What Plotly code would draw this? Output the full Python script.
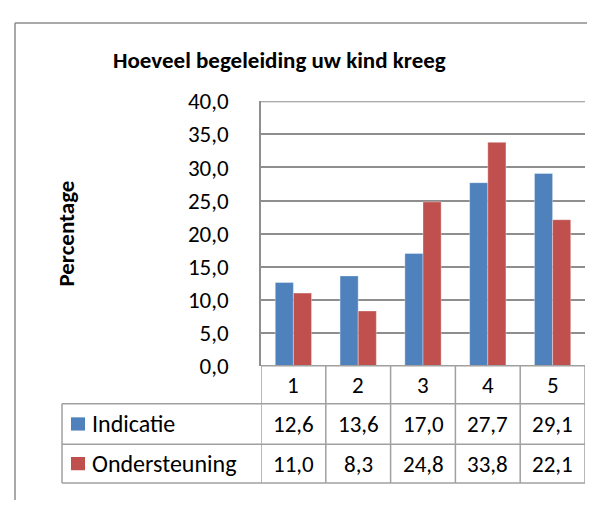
import plotly.graph_objects as go

categories = ["1", "2", "3", "4", "5"]
series_names = ["Indicatie", "Ondersteuning"]
indicatie = [12.6, 13.6, 17.0, 27.7, 29.1]
ondersteuning = [11.0, 8.3, 24.8, 33.8, 22.1]
colors = ["#4F81BD", "#C0504D"]
title = "Hoeveel begeleiding uw kind kreeg"
y_title = "Percentage"
y_top = 40

W, H = 595, 506
OFF = 8  # page body margin of the browser
FONT = "Carlito, Lato, sans-serif"
GRID = "#8E8E8E"
TBL = "#A0A0A0"

def px(x):
    return (x - OFF) / W

def py(y):
    return 1 - (y - OFF) / H

plot_l, plot_r, plot_t, plot_b = 261, 585, 92, 372
row_lines = [372, 412, 455, 496]
tbl_left = 62

xs = list(range(len(categories)))
series = [indicatie, ondersteuning]

fig = go.Figure()
for name, vals, col in zip(series_names, series, colors):
    fig.add_trace(go.Bar(
        x=xs, y=vals, name=name, marker=dict(color=col, line=dict(color="rgba(255,255,255,0.35)", width=1)),
        hoverinfo="skip", showlegend=False))

shapes = []
annotations = []

def ann(x, y, text, size=23, xref="paper", xanchor="center", angle=0):
    annotations.append(dict(x=x, y=y, xref=xref, yref="paper", text=text, showarrow=False,
                            xanchor=xanchor, yanchor="middle", textangle=angle,
                            font=dict(family=FONT, size=size, color="black")))

# outer chart border (left and top edges; the rest lies outside the view), kept inside the paper
shapes.append(dict(type="line", xref="paper", yref="paper", x0=px(15), x1=px(15), y0=0, y1=py(9),
                   line=dict(color="#8C8C8C", width=1.5)))
shapes.append(dict(type="line", xref="paper", yref="paper", x0=px(15), x1=1, y0=py(9), y1=py(9),
                   line=dict(color="#8C8C8C", width=1.5)))

n = len(categories)
shapes.append(dict(type="line", xref="x", yref="y", x0=-0.5, x1=n - 0.5, y0=y_top, y1=y_top,
                   line=dict(color=GRID, width=2), layer="below"))

for i in range(n + 1):
    shapes.append(dict(type="line", xref="x", yref="paper", x0=i - 0.5, x1=i - 0.5,
                       y0=py(row_lines[0]), y1=py(row_lines[-1]), line=dict(color=TBL, width=1.5)))
shapes.append(dict(type="line", xref="paper", yref="paper", x0=px(tbl_left), x1=px(tbl_left),
                   y0=py(row_lines[1]), y1=py(row_lines[-1]), line=dict(color=TBL, width=1.5)))
for k, yv in enumerate(row_lines):
    x0 = px(plot_l) if k == 0 else px(tbl_left)
    shapes.append(dict(type="line", xref="paper", yref="paper", x0=x0, x1=px(plot_r),
                       y0=py(yv), y1=py(yv), line=dict(color=TBL, width=1.5)))

for i, c in enumerate(categories):
    ann(i, py((row_lines[0] + row_lines[1]) / 2), c, xref="x")
for r, (name, vals, col) in enumerate(zip(series_names, series, colors)):
    yc = (row_lines[r + 1] + row_lines[r + 2]) / 2
    for i, v in enumerate(vals):
        ann(i, py(yc), f"{v:.1f}".replace(".", ","), xref="x")
    shapes.append(dict(type="rect", xref="paper", yref="paper", x0=px(71), x1=px(85),
                       y0=py(yc + 7), y1=py(yc - 7), fillcolor=col, line=dict(width=0)))
    ann(px(90), py(yc), name, size=24, xanchor="left")

ann(px(279), py(48), f"<b>{title}</b>", size=23)
ann(px(66), py((plot_t + plot_b) / 2), f"<b>{y_title}</b>", size=23, angle=-90)

fig.update_layout(
    width=W, height=H, margin=dict(l=0, r=0, t=0, b=0),
    paper_bgcolor="white", plot_bgcolor="white",
    separators=",.",
    barmode="group", bargap=0.44, bargroupgap=0,
    shapes=shapes, annotations=annotations,
    xaxis=dict(domain=[px(plot_l), px(plot_r)], range=[-0.5, n - 0.5], showticklabels=False,
               showgrid=False, zeroline=False, showline=False, fixedrange=True),
    yaxis=dict(domain=[py(plot_b), py(plot_t)], range=[0, y_top], dtick=5, tickformat=".1f",
               showgrid=True, gridcolor=GRID, gridwidth=2, zeroline=False,
               showline=True, linecolor=GRID, linewidth=1.5, ticks="", ticklabelstandoff=26,
               tickfont=dict(family=FONT, size=23, color="black"), fixedrange=True),
)

fig.write_html("out.html")
